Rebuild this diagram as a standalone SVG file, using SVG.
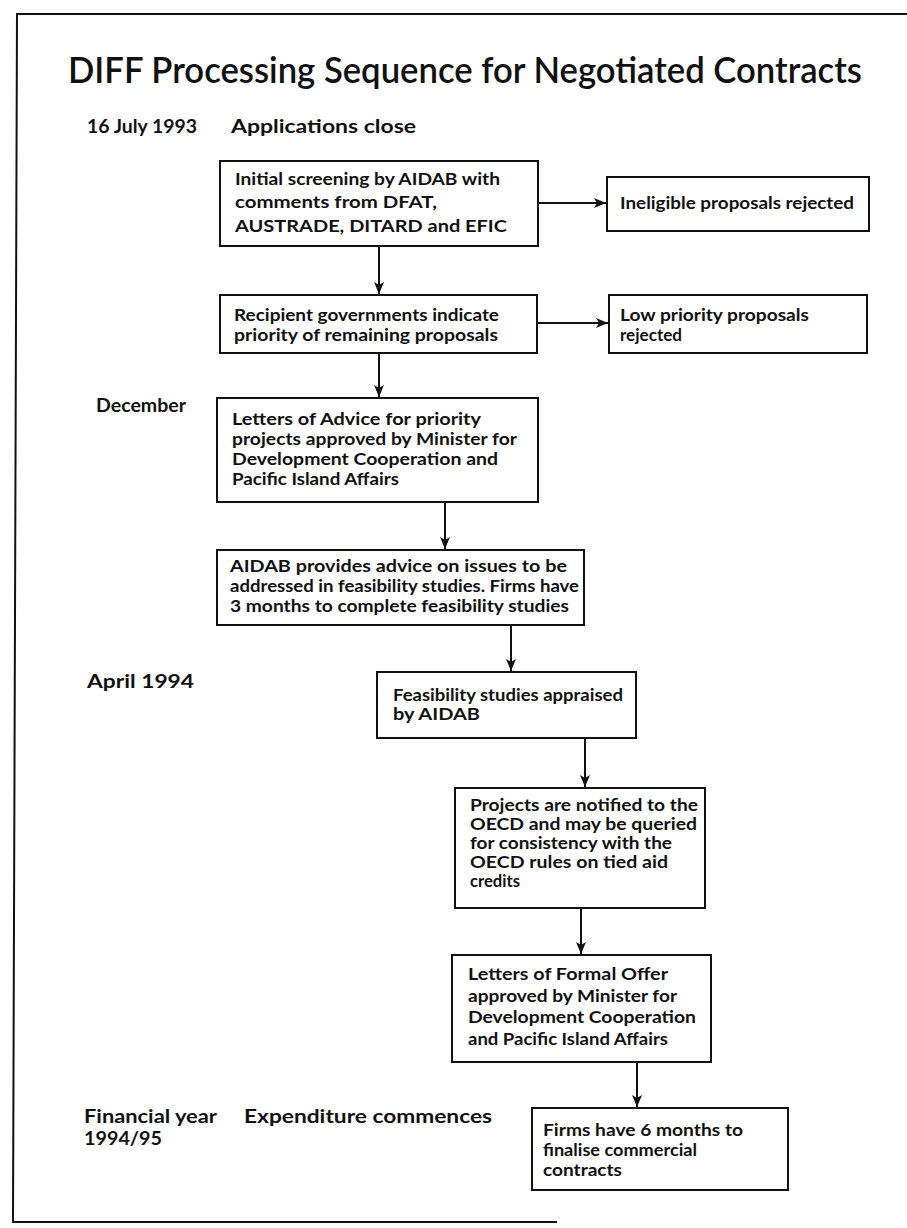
<svg xmlns="http://www.w3.org/2000/svg" width="907" height="1228" viewBox="0 0 907 1228">
<defs>
<style>
text{font-family:Lato,"Liberation Sans",sans-serif;fill:#111;font-weight:700}
.t{font-size:36px;font-weight:600}
.l{font-size:19px}
.b{font-size:17px}
rect{fill:#fff;stroke:#111;stroke-width:2}
.c line{stroke:#111;stroke-width:2}
</style>
<marker id="ah" viewBox="0 0 12 10" refX="12" refY="5" markerWidth="12" markerHeight="10" markerUnits="userSpaceOnUse" orient="auto"><path d="M0,0 L12,5 L0,10 L3,5 z" fill="#111"/></marker>
</defs>
<rect width="907" height="1228" style="fill:#fff;stroke:none"/>
<path d="M907,14 L17,14 L13,1222 L557,1222" fill="none" stroke="#111" stroke-width="2"/>
<text class="t" x="68" y="83" textLength="794" lengthAdjust="spacingAndGlyphs">DIFF Processing Sequence for Negotiated Contracts</text>
<g id="labels">
<text class="l" x="87" y="133" textLength="110" lengthAdjust="spacingAndGlyphs">16 July 1993</text>
<text class="l" x="231" y="133" textLength="185" lengthAdjust="spacingAndGlyphs">Applications close</text>
<text class="l" x="96" y="412" textLength="90" lengthAdjust="spacingAndGlyphs">December</text>
<text class="l" x="87" y="688" textLength="107" lengthAdjust="spacingAndGlyphs">April 1994</text>
<text class="l" x="84" y="1123" textLength="133" lengthAdjust="spacingAndGlyphs">Financial year</text>
<text class="l" x="84" y="1145" textLength="78" lengthAdjust="spacingAndGlyphs">1994/95</text>
<text class="l" x="244" y="1123" textLength="248" lengthAdjust="spacingAndGlyphs">Expenditure commences</text>
</g>
<g id="n1">
<rect x="220" y="161" width="318" height="85"/>
<text class="b" x="235" y="185" textLength="265" lengthAdjust="spacingAndGlyphs">Initial screening by AIDAB with</text>
<text class="b" x="235" y="208" textLength="202" lengthAdjust="spacingAndGlyphs">comments from DFAT,</text>
<text class="b" x="235" y="232" textLength="272" lengthAdjust="spacingAndGlyphs">AUSTRADE, DITARD and EFIC</text>
</g>
<g id="n2">
<rect x="607" y="177" width="262" height="54"/>
<text class="b" x="620" y="209" textLength="234" lengthAdjust="spacingAndGlyphs">Ineligible proposals rejected</text>
</g>
<g id="n3">
<rect x="220" y="295" width="317" height="58"/>
<text class="b" x="234" y="321" textLength="265" lengthAdjust="spacingAndGlyphs">Recipient governments indicate</text>
<text class="b" x="234" y="341" textLength="264" lengthAdjust="spacingAndGlyphs">priority of remaining proposals</text>
</g>
<g id="n4">
<rect x="609" y="295" width="258" height="58"/>
<text class="b" x="620" y="321" textLength="189" lengthAdjust="spacingAndGlyphs">Low priority proposals</text>
<text class="b" x="620" y="341" textLength="62" lengthAdjust="spacingAndGlyphs">rejected</text>
</g>
<g id="n5">
<rect x="217" y="398" width="321" height="104"/>
<text class="b" x="232" y="425" textLength="249" lengthAdjust="spacingAndGlyphs">Letters of Advice for priority</text>
<text class="b" x="232" y="445" textLength="285" lengthAdjust="spacingAndGlyphs">projects approved by Minister for</text>
<text class="b" x="232" y="465" textLength="266" lengthAdjust="spacingAndGlyphs">Development Cooperation and</text>
<text class="b" x="232" y="485" textLength="167" lengthAdjust="spacingAndGlyphs">Pacific Island Affairs</text>
</g>
<g id="n6">
<rect x="217" y="550" width="367" height="75"/>
<text class="b" x="230" y="572" textLength="337" lengthAdjust="spacingAndGlyphs">AIDAB provides advice on issues to be</text>
<text class="b" x="230" y="592" textLength="349" lengthAdjust="spacingAndGlyphs">addressed in feasibility studies. Firms have</text>
<text class="b" x="230" y="612" textLength="339" lengthAdjust="spacingAndGlyphs">3 months to complete feasibility studies</text>
</g>
<g id="n7">
<rect x="377" y="672" width="259" height="66"/>
<text class="b" x="393" y="701" textLength="230" lengthAdjust="spacingAndGlyphs">Feasibility studies appraised</text>
<text class="b" x="393" y="720" textLength="87" lengthAdjust="spacingAndGlyphs">by AIDAB</text>
</g>
<g id="n8">
<rect x="455" y="788" width="250" height="120"/>
<text class="b" x="470" y="811" textLength="228" lengthAdjust="spacingAndGlyphs">Projects are notified to the</text>
<text class="b" x="470" y="830" textLength="227" lengthAdjust="spacingAndGlyphs">OECD and may be queried</text>
<text class="b" x="470" y="849" textLength="202" lengthAdjust="spacingAndGlyphs">for consistency with the</text>
<text class="b" x="470" y="868" textLength="198" lengthAdjust="spacingAndGlyphs">OECD rules on tied aid</text>
<text class="b" x="470" y="887" textLength="50" lengthAdjust="spacingAndGlyphs">credits</text>
</g>
<g id="n9">
<rect x="452" y="955" width="259" height="107"/>
<text class="b" x="468" y="980" textLength="200" lengthAdjust="spacingAndGlyphs">Letters of Formal Offer</text>
<text class="b" x="468" y="1002" textLength="209" lengthAdjust="spacingAndGlyphs">approved by Minister for</text>
<text class="b" x="468" y="1023" textLength="228" lengthAdjust="spacingAndGlyphs">Development Cooperation</text>
<text class="b" x="468" y="1045" textLength="200" lengthAdjust="spacingAndGlyphs">and Pacific Island Affairs</text>
</g>
<g id="n10">
<rect x="532" y="1108" width="256" height="82"/>
<text class="b" x="543" y="1136" textLength="200" lengthAdjust="spacingAndGlyphs">Firms have 6 months to</text>
<text class="b" x="543" y="1156" textLength="154" lengthAdjust="spacingAndGlyphs">finalise commercial</text>
<text class="b" x="543" y="1176" textLength="79" lengthAdjust="spacingAndGlyphs">contracts</text>
</g>
<g id="connectors" class="c">
<line x1="538" y1="203" x2="606" y2="203" marker-end="url(#ah)"/>
<line x1="379" y1="246" x2="379" y2="294" marker-end="url(#ah)"/>
<line x1="537" y1="323" x2="608" y2="323" marker-end="url(#ah)"/>
<line x1="379" y1="353" x2="379" y2="397" marker-end="url(#ah)"/>
<line x1="445" y1="502" x2="445" y2="549" marker-end="url(#ah)"/>
<line x1="511" y1="625" x2="511" y2="671" marker-end="url(#ah)"/>
<line x1="585" y1="738" x2="585" y2="787" marker-end="url(#ah)"/>
<line x1="581" y1="908" x2="581" y2="954" marker-end="url(#ah)"/>
<line x1="637" y1="1062" x2="637" y2="1107" marker-end="url(#ah)"/>
</g>
</svg>
